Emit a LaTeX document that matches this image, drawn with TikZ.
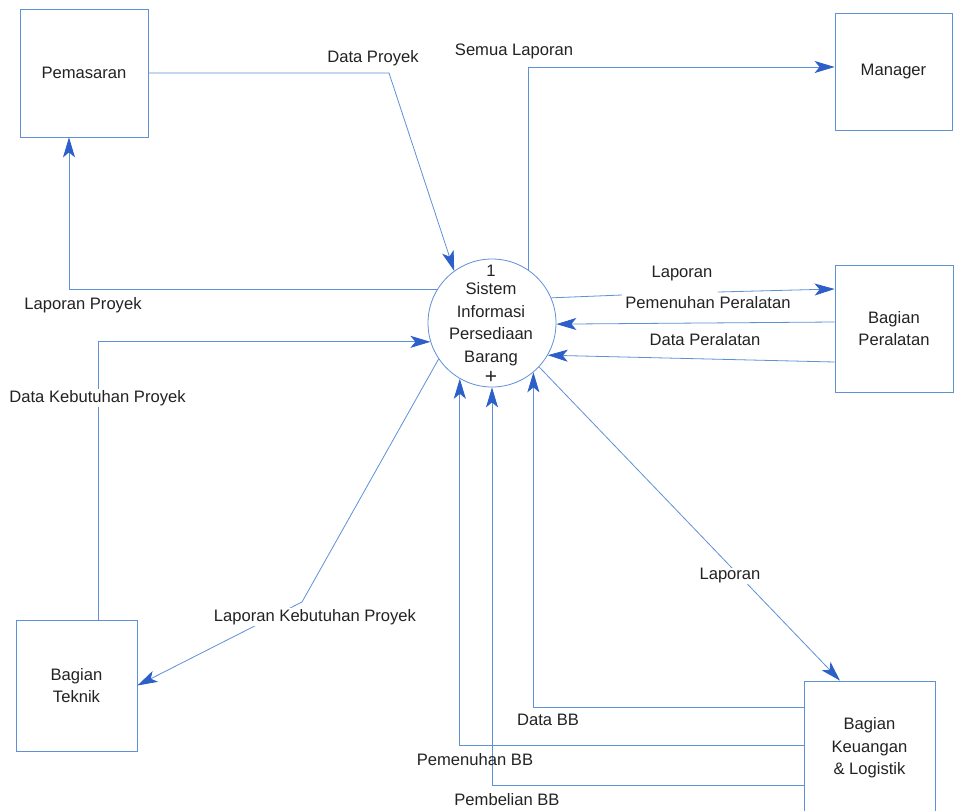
\documentclass[tikz,border=0pt]{standalone}
\usepackage{fontspec}
\setmainfont{Liberation Sans}
\usetikzlibrary{arrows.meta,calc}
\definecolor{ln}{RGB}{95,145,215}
\definecolor{ah}{RGB}{45,95,200}
\definecolor{tx}{RGB}{35,35,35}
\begin{document}
\begin{tikzpicture}[x=1pt,y=-1pt,
  every node/.style={font=\fontsize{16.6}{22.5}\selectfont, text=tx, align=center},
  entity/.style={draw=ln, line width=0.8pt, rectangle, inner sep=0pt},
  proc/.style={draw=ln, line width=0.8pt, circle, minimum size=128pt, inner sep=0pt},
  flow/.style={draw=ln, line width=0.8pt, -{Stealth[length=20pt,width=12pt,inset=5pt,color=ah]}},
  plain/.style={draw=ln, line width=0.8pt},
  lbl/.style={inner sep=1pt},
  tight/.style={inner sep=0pt},
  lblw/.style={inner sep=1pt, fill=white}
]
\fill[white] (0,0) rectangle (954,811);
\useasboundingbox (0,0) rectangle (954,811);

% entities
\node[entity, minimum width=128pt, minimum height=128pt] (pm) at (84,73) {Pemasaran};
\node[entity, minimum width=117pt, minimum height=117pt] (mg) at (893.5,71.5) {Manager};
\node[entity, minimum width=118pt, minimum height=127pt] (pe) at (894,328.5) {Bagian\\Peralatan};
\node[entity, minimum width=121pt, minimum height=131pt] (tk) at (76.5,685.5) {Bagian\\Teknik};
\node[entity, minimum width=131pt, minimum height=134pt] (ku) at (869.5,748) {Bagian\\Keuangan\\\& Logistik};

% process
\node[proc] (c) at (492,323) {};
\node[tight] (ctext) at (491,324) {Sistem\\Informasi\\Persediaan\\Barang};
\node[tight] (cnum) at (491,271) {1};
\node[tight, font=\fontsize{21}{21}\selectfont] (cplus) at (491,377) {+};

% Data Proyek
\draw[flow] (pm.east) -- (389,73) -- (c.126);
\node[lbl] (l1) at (373,58) {Data Proyek};

% Laporan Proyek
\draw[flow] (c.149) -| ([xshift=-15pt]pm.south);
\node[lbl] (l2) at (83,305) {Laporan Proyek};

% Semua Laporan
\draw[flow] (c.56) |- (mg.west |- 0,67);
\node[lbl] (l3) at (514,51) {Semua Laporan};

% Laporan Pemenuhan Peralatan
\coordinate (gapL) at (622,295);
\coordinate (gapR) at (718,292);
\draw[plain] (c.23) -- (gapL);
\draw[flow] (gapR) -- (pe.west |- 0,289);
\node[lbl] (l4a) at (682,274) {Laporan};
\node[lbl] (l4b) at (708,303) {Pemenuhan Peralatan};

% from Peralatan
\draw[flow] (pe.west |- 0,322) -- (c.-1);
\draw[flow] (pe.west |- 0,362) -- (c.-30);
\node[lbl] (l5) at (705,340) {Data Peralatan};

% Data Kebutuhan Proyek
\draw[flow] ([xshift=21.5pt]tk.north) |- (c.197);
\node[lblw] (l6) at (97.5,398) {Data Kebutuhan Proyek};

% Laporan Kebutuhan Proyek
\draw[flow] (c.214) -- (302,602) -- (tk.east);
\node[lblw] (l7) at (315,617) {Laporan Kebutuhan Proyek};

% Laporan to Keuangan
\draw[flow] (c.-43) -- ([xshift=-29.5pt]ku.north);
\node[lblw] (l8) at (730,576) {Laporan};

% from Keuangan
\draw[flow] (ku.west |- 0,707) -| (c.-50);
\draw[flow] (ku.west |- 0,745) -| (c.-120);
\draw[flow] (ku.west |- 0,785) -| (c.-90);
\node[lbl] (l9) at (548,720) {Data BB};
\node[lbl] (l10) at (475,760) {Pemenuhan BB};
\node[lbl] (l11) at (507,800) {Pembelian BB};
\end{tikzpicture}
\end{document}
